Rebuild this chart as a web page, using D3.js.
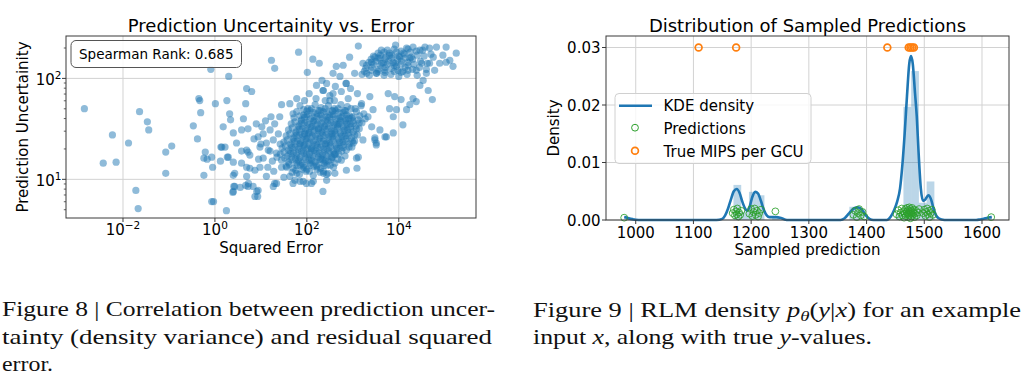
<!DOCTYPE html>
<html><head><meta charset="utf-8">
<script src="https://cdn.jsdelivr.net/npm/d3@7"></script>
<style>
body{margin:0;background:#fff;}
svg{display:block;}
text{font-family:"DejaVu Sans",sans-serif;fill:#000;}
.cap{font-family:"Liberation Serif",serif;font-size:21px;fill:#111;}
</style></head><body>
<svg id="c" width="1024" height="381"></svg>
<script>
// ---------- Figure 8 data: [log10(squared error), log10(uncertainty)] ----------
const sparsePoints = [[-2.84,1.70],[-2.23,1.44],[-2.43,1.16],[-2.15,1.17],[-1.88,1.36],[-1.64,1.67],[-1.47,1.57],[-1.44,1.49],[-1.72,0.89],[-1.67,0.71],[-1.07,1.27],[-0.94,1.33],[-1.07,1.06],[-0.47,1.53],[-0.38,1.40],[-0.35,1.80],[-0.33,1.78],[-0.31,1.66],[-0.24,1.04],[-0.21,1.27],[-0.24,1.21],[-0.17,1.20],[-0.09,2.09],[-0.05,1.12],[-0.07,0.78],[-0.03,0.78],[0.01,1.75],[-0.07,1.22],[0.26,1.78],[0.30,2.02],[0.25,0.69],[0.13,1.32],[0.12,1.18],[0.15,1.32],[0.29,1.22],[0.40,1.04],[0.43,0.93],[0.40,0.88],[0.69,1.03],[0.72,0.93],[0.87,0.83],[0.72,1.27],
[0.18,1.52],[0.34,1.59],[0.32,1.65],[0.40,1.46],[0.47,1.36],[0.58,1.49],[0.62,1.60],[0.69,1.90],[0.80,1.87],[0.67,1.75],[0.72,1.50],[0.69,1.29],[0.76,1.24],[0.58,1.16],[0.58,1.28],[0.40,1.17],[0.27,1.22],[0.22,1.32],[1.02,1.52],[0.94,1.42],[0.98,1.32],[1.05,1.21],[0.98,1.12],[0.87,1.09],[1.12,1.03],[1.30,0.96],[1.20,1.49],[1.27,1.39],[1.16,1.29],[1.34,1.26],[1.41,1.62],[1.45,1.74],[1.63,1.75],[1.70,1.65],[1.56,1.12],[1.63,1.03],[1.78,1.06],[1.99,0.96],[2.14,0.98],[2.36,1.06],[2.43,0.99],[2.61,1.06],[2.86,1.09],
[0.43,1.06],[0.39,0.87],[0.41,0.93],[0.55,0.92],[0.67,0.94],[0.73,0.96],[0.83,0.93],[0.91,0.88],[0.93,0.83],[0.69,1.12],[0.76,1.11],[1.27,0.93],[1.34,0.96],[1.70,0.96],[1.85,0.98],[2.35,0.88],[0.94,0.89],[1.74,0.99],[1.92,0.98],[2.10,0.96],[2.46,1.06],[3.09,1.11],[3.08,1.21],[3.51,1.36],[3.73,1.42],[3.88,1.46],[3.48,1.41]];
const blobPoints = [[1.85,1.73],[2.02,1.70],[2.18,1.74],[2.31,1.71],[2.47,1.73],[2.60,1.70],[2.74,1.74],[2.88,1.72],[3.05,1.70],[3.18,1.73],
[1.78,1.67],[1.93,1.64],[2.07,1.68],[2.22,1.65],[2.36,1.67],[2.50,1.64],[2.63,1.68],[2.79,1.66],[2.93,1.63],[3.08,1.67],[3.24,1.65],
[1.72,1.61],[1.88,1.59],[2.00,1.62],[2.14,1.58],[2.29,1.61],[2.42,1.59],[2.57,1.62],[2.70,1.60],[2.84,1.58],[2.98,1.61],[3.12,1.59],[3.27,1.60],
[1.66,1.55],[1.81,1.53],[1.95,1.56],[2.09,1.52],[2.23,1.55],[2.38,1.53],[2.52,1.56],[2.66,1.54],[2.80,1.52],[2.94,1.55],[3.07,1.53],[3.20,1.56],
[1.60,1.49],[1.76,1.47],[1.90,1.50],[2.04,1.46],[2.17,1.49],[2.32,1.47],[2.46,1.50],[2.60,1.48],[2.73,1.46],[2.88,1.49],[3.01,1.47],[3.14,1.50],
[1.55,1.43],[1.70,1.41],[1.84,1.44],[1.98,1.40],[2.12,1.43],[2.27,1.41],[2.41,1.44],[2.55,1.42],[2.69,1.40],[2.83,1.43],[2.97,1.41],[3.10,1.44],
[1.50,1.37],[1.64,1.35],[1.79,1.38],[1.93,1.34],[2.07,1.37],[2.21,1.35],[2.36,1.38],[2.50,1.36],[2.64,1.34],[2.78,1.37],[2.92,1.35],[3.04,1.38],
[1.46,1.31],[1.60,1.29],[1.74,1.32],[1.88,1.28],[2.02,1.31],[2.16,1.29],[2.30,1.32],[2.44,1.30],[2.58,1.28],[2.72,1.31],[2.86,1.29],[2.98,1.32],
[1.42,1.25],[1.57,1.23],[1.71,1.26],[1.85,1.22],[1.99,1.25],[2.13,1.23],[2.27,1.26],[2.41,1.24],[2.55,1.22],[2.69,1.25],[2.83,1.23],
[1.45,1.19],[1.60,1.17],[1.75,1.20],[1.90,1.16],[2.04,1.19],[2.18,1.17],[2.33,1.20],[2.47,1.18],[2.61,1.16],[2.75,1.19],
[1.55,1.13],[1.70,1.11],[1.86,1.14],[2.00,1.10],[2.15,1.13],[2.30,1.11],[2.44,1.14],[2.58,1.12],
[1.68,1.07],[1.84,1.05],[1.98,1.08],[2.14,1.04],[2.29,1.07],[2.43,1.05],
[1.95,1.45],[2.25,1.50],[2.55,1.45],[2.10,1.30],[2.40,1.35],[2.70,1.55],[2.30,1.20],[2.60,1.25],[1.85,1.35],[2.85,1.60],
[1.05,1.45],[1.12,1.36],[1.20,1.28],[1.25,1.18],[1.30,1.55],[1.38,1.45],[1.42,1.35],[1.35,1.22],[1.28,1.08],[1.45,1.12],[1.50,1.02],[1.15,1.12],[0.95,1.20],[1.00,1.35],[0.85,1.40],[0.90,1.55],[1.10,1.58],[1.22,1.62]];
const blobCorePoints = [[1.93,1.69],[2.10,1.70],[2.25,1.68],[2.40,1.70],[2.55,1.68],[2.68,1.70],[2.82,1.68],[2.96,1.70],
[1.85,1.63],[2.00,1.64],[2.15,1.62],[2.30,1.64],[2.44,1.62],[2.57,1.64],[2.72,1.62],[2.86,1.64],[3.00,1.62],[3.15,1.63],
[1.74,1.57],[1.88,1.58],[2.02,1.56],[2.16,1.58],[2.31,1.56],[2.45,1.58],[2.59,1.56],[2.73,1.58],[2.87,1.56],[3.00,1.58],[3.14,1.56],
[1.68,1.51],[1.83,1.52],[1.97,1.50],[2.11,1.52],[2.25,1.50],[2.39,1.52],[2.53,1.50],[2.67,1.52],[2.81,1.50],[2.95,1.52],[3.08,1.50],
[1.63,1.45],[1.77,1.46],[1.91,1.44],[2.05,1.46],[2.19,1.44],[2.34,1.46],[2.48,1.44],[2.62,1.46],[2.76,1.44],[2.90,1.46],[3.04,1.44],
[1.57,1.39],[1.72,1.40],[1.86,1.38],[2.00,1.40],[2.14,1.38],[2.29,1.40],[2.43,1.38],[2.57,1.40],[2.71,1.38],[2.85,1.40],[2.99,1.38],
[1.53,1.33],[1.67,1.34],[1.81,1.32],[1.95,1.34],[2.09,1.32],[2.23,1.34],[2.37,1.32],[2.51,1.34],[2.65,1.32],[2.79,1.34],[2.92,1.32],
[1.50,1.27],[1.64,1.28],[1.78,1.26],[1.92,1.28],[2.06,1.26],[2.20,1.28],[2.34,1.26],[2.48,1.28],[2.62,1.26],[2.76,1.28],
[1.52,1.21],[1.67,1.22],[1.82,1.20],[1.96,1.22],[2.10,1.20],[2.25,1.22],[2.40,1.20],[2.54,1.22],[2.68,1.20],
[1.62,1.15],[1.78,1.16],[1.93,1.14],[2.07,1.16],[2.22,1.14],[2.37,1.16],[2.51,1.14],
[1.76,1.09],[1.91,1.10],[2.06,1.08],[2.22,1.10],[2.36,1.08]];
const blobDensePoints = [[2.00,1.675],[2.14,1.66],[2.28,1.68],[2.42,1.665],[2.56,1.675],[2.70,1.66],[2.84,1.68],
[1.95,1.615],[2.08,1.60],[2.22,1.62],[2.35,1.605],[2.49,1.615],[2.63,1.60],[2.77,1.62],[2.91,1.605],
[1.88,1.555],[2.02,1.54],[2.16,1.56],[2.30,1.545],[2.45,1.555],[2.59,1.54],[2.73,1.56],[2.87,1.545],[3.01,1.555],
[1.83,1.495],[1.97,1.48],[2.11,1.50],[2.25,1.485],[2.39,1.495],[2.53,1.48],[2.67,1.50],[2.81,1.485],[2.95,1.495],
[1.77,1.435],[1.91,1.42],[2.05,1.44],[2.19,1.425],[2.34,1.435],[2.48,1.42],[2.62,1.44],[2.76,1.425],[2.90,1.435],
[1.72,1.375],[1.86,1.36],[2.00,1.38],[2.14,1.365],[2.28,1.375],[2.43,1.36],[2.57,1.38],[2.71,1.365],[2.85,1.375],
[1.67,1.315],[1.81,1.30],[1.95,1.32],[2.09,1.305],[2.23,1.315],[2.37,1.30],[2.51,1.32],[2.65,1.305],[2.79,1.315],
[1.64,1.255],[1.78,1.24],[1.92,1.26],[2.06,1.245],[2.20,1.255],[2.34,1.24],[2.48,1.26],[2.62,1.245],
[1.67,1.195],[1.82,1.18],[1.97,1.20],[2.11,1.185],[2.26,1.195],[2.40,1.18],[2.54,1.20],
[1.78,1.135],[1.93,1.12],[2.08,1.14],[2.22,1.125],[2.37,1.135]];
const upperPoints = [[1.78,1.80],[1.95,1.78],[2.05,1.85],[2.20,1.80],[2.35,1.88],[2.50,1.83],[2.62,1.92],[2.75,1.87],[2.85,1.95],[2.95,1.90],[3.10,1.85],[2.90,1.80],[2.60,1.78],[2.40,1.78],
[1.23,2.18],[1.30,2.10],[1.82,2.26],[2.01,2.06],[2.13,2.19],[2.27,2.15],[2.33,1.98],[2.43,1.95],[2.57,2.05],[2.64,2.12],[2.79,2.13],[2.93,2.21],[3.12,2.32],[2.72,2.02],[2.86,1.95],[3.04,2.05],[2.21,1.93],[2.36,1.88],[2.57,1.85],[2.50,1.78],
[3.01,1.36],[3.22,1.39],[3.41,1.52],[3.33,1.62],[3.44,1.69],[3.19,1.75],[3.37,1.82],[3.59,1.49],[3.70,1.42],[3.48,1.39],[3.51,1.34],[3.12,1.22],
[3.77,1.85],[3.91,1.82],[3.80,1.70],[3.95,1.69],[3.88,1.62],[4.09,1.54],[4.24,1.74],[4.38,1.77],[4.17,1.69],[4.73,1.79],[4.46,1.93],[4.53,1.98],[4.60,2.05],[4.67,2.15],[4.64,1.88],[4.31,1.80],[4.05,1.79],
[3.22,2.15],[3.30,2.05],[3.41,2.16],[3.48,2.21],[3.59,2.20],[3.66,2.15],[3.70,2.08],[3.80,2.23],[3.88,2.16],[3.95,2.12],[3.93,2.33],[4.02,2.21],[4.17,2.30],[4.24,2.20],[4.31,2.31],[4.20,2.08],[4.09,2.07],[4.38,2.08],[4.46,2.28],[4.57,2.31],[4.67,2.30],[4.82,2.31],[5.03,2.31],[4.96,2.23],[5.11,2.18],[5.25,2.25],[5.18,2.12],[4.78,2.08],[4.89,2.15],[5.03,2.16],[4.75,2.21],[4.50,2.15],[3.51,2.05],[3.62,2.28],
[3.75,2.28],[3.90,2.29],[4.05,2.27],[4.20,2.29],[4.38,2.27],[4.52,2.28],
[3.45,2.22],[3.60,2.23],[3.72,2.21],[3.85,2.23],[4.00,2.22],[4.12,2.24],[4.27,2.21],[4.40,2.23],[4.55,2.22],[4.70,2.24],
[3.35,2.16],[3.50,2.17],[3.63,2.15],[3.78,2.17],[3.92,2.15],[4.06,2.17],[4.20,2.16],[4.33,2.14],[4.47,2.17],[4.62,2.15],
[3.28,2.10],[3.42,2.11],[3.56,2.09],[3.70,2.11],[3.84,2.10],[3.98,2.08],[4.14,2.11],[4.30,2.09],[4.45,2.11],[4.60,2.09],
[3.20,2.04],[3.36,2.03],[3.52,2.05],[3.68,2.03],[3.83,2.04],[4.00,2.02],[4.18,2.04],[4.40,2.03],
[3.55,2.25],[3.68,2.26],[3.80,2.25],[3.95,2.26],[4.10,2.25],[4.25,2.26],
[3.40,2.19],[3.55,2.20],[3.70,2.19],[3.85,2.20],[3.98,2.19],[4.14,2.20],[4.30,2.19],
[3.30,2.13],[3.45,2.14],[3.60,2.13],[3.75,2.14],[3.90,2.13],[4.05,2.14],[4.20,2.13],
[3.25,2.07],[3.40,2.08],[3.55,2.07],[3.70,2.06],[3.90,2.07],[4.05,2.06]];
const spearmanText = "Spearman Rank: 0.685";
const leftXTicks = [-2, 0, 2, 4];      // exponents
const leftYTicks = [1, 2];             // exponents

// ---------- Figure 9 data ----------
const kdeX = [980,985,990,1000,1010,1140,1150,1155,1160,1165,1170,1175,1180,1185,1190,1193,1197,1202,1207,1212,1217,1222,1227,1232,1238,1244,1250,1258,1265,1355,1362,1370,1378,1385,1392,1398,1405,1412,1435,1442,1448,1453,1458,1462,1466,1470,1474,1477,1480,1484,1487,1490,1494,1498,1502,1507,1512,1516,1520,1525,1530,1540,1590,1597,1603,1610,1617];
const kdeY = [0.0005,0.0004,0.0002,0.00005,0,0,0.0002,0.0008,0.0020,0.0036,0.0050,0.0054,0.0047,0.0031,0.0019,0.0016,0.0022,0.0040,0.0049,0.0046,0.0033,0.0018,0.0008,0.0005,0.0005,0.0005,0.0004,0.0001,0,0,0.0003,0.0012,0.0020,0.0022,0.0018,0.0009,0.0002,0,0,0.0006,0.0018,0.0032,0.0055,0.0095,0.0150,0.0215,0.0272,0.0285,0.0272,0.0220,0.0180,0.0120,0.0055,0.0033,0.0036,0.0043,0.0035,0.0020,0.0009,0.0003,0.0001,0,0,0.0001,0.0002,0.0004,0.0005];
const binWidth = 13.4;
const histStart = [982.1,1169.4,1182.8,1196.2,1209.6,1236.4,1370.2,1383.6,1450.5,1463.9,1477.3,1490.7,1504.1,1603.6];
const histDensity = [0.0005,0.0061,0.0014,0.0049,0.0043,0.0005,0.0023,0.0019,0.0012,0.0197,0.0259,0.0030,0.0067,0.0005];
const predX = [980,1168,1170,1172,1174,1175,1176,1178,1179,1181,1183,1197,1200,1202,1204,1206,1208,1210,1212,1214,1217,1242,1377,1380,1383,1385,1387,1390,1393,1396,
1452,1455,1457,1459,1461,1462,1464,1465,1466,1467,1468,1469,1470,1471,1472,1472,1473,1474,1474,1475,1476,1476,1477,1478,1478,1479,1480,1481,1482,1483,1484,1486,1487,1489,1491,
1498,1500,1502,1503,1505,1506,1508,1509,1511,1513,1515,1616];
const predY = [0.0004,0.0012,0.0018,0.0008,0.0015,0.0010,0.0020,0.0006,0.0013,0.0009,0.0016,0.0011,0.0019,0.0007,0.0014,0.0020,0.0009,0.0016,0.0006,0.0012,0.0018,0.0015,0.0009,0.0016,0.0005,0.0012,0.0019,0.0008,0.0014,0.0006,
0.0010,0.0017,0.0006,0.0013,0.0020,0.0008,0.0015,0.0004,0.0011,0.0019,0.0007,0.0014,0.0021,0.0010,0.0005,0.0017,0.0012,0.0022,0.0008,0.0015,0.0003,0.0019,0.0011,0.0006,0.0016,0.0021,0.0009,0.0013,0.0018,0.0005,0.0011,0.0016,0.0008,0.0013,0.0019,
0.0012,0.0018,0.0007,0.0014,0.0020,0.0010,0.0016,0.0005,0.0012,0.0018,0.0009,0.0005];
const trueX = [1109,1174,1436,1473,1476,1479,1482];
const trueY = 0.03;
const rightXTicks = [1000,1100,1200,1300,1400,1500,1600];
const rightYTicks = [0, 0.01, 0.02, 0.03];
const legendLabels = ["KDE density","Predictions","True MIPS per GCU"];

const BLUE="#1f77b4", GREEN="#2ca02c", ORANGE="#ff7f0e", GRID="#d2d2d2", AX="#3a3a3a";
const svg = d3.select("#c");

// ================= LEFT CHART =================
const L = {x0:66, x1:476, y0:36, y1:218};
const xL = d3.scaleLog().domain([10**-3.24, 10**5.68]).range([L.x0, L.x1]);
const yL = d3.scaleLog().domain([10**0.617, 10**2.42]).range([L.y1, L.y0]);
const gL = svg.append("g");
gL.append("clipPath").attr("id","clipL").append("rect").attr("x",L.x0).attr("y",L.y0).attr("width",L.x1-L.x0).attr("height",L.y1-L.y0);
gL.selectAll(".gx").data(leftXTicks).join("line").attr("x1",d=>xL(10**d)).attr("x2",d=>xL(10**d)).attr("y1",L.y0).attr("y2",L.y1).attr("stroke",GRID).attr("stroke-width",1);
gL.selectAll(".gy").data(leftYTicks).join("line").attr("y1",d=>yL(10**d)).attr("y2",d=>yL(10**d)).attr("x1",L.x0).attr("x2",L.x1).attr("stroke",GRID).attr("stroke-width",1);
const allPts = sparsePoints.concat(blobPoints, blobCorePoints, blobDensePoints, upperPoints);
gL.append("g").attr("clip-path","url(#clipL)").selectAll("circle").data(allPts).join("circle")
  .attr("cx",d=>xL(10**d[0])).attr("cy",d=>yL(10**d[1])).attr("r",3.6)
  .attr("fill",BLUE).attr("fill-opacity",0.5);
gL.append("rect").attr("x",L.x0).attr("y",L.y0).attr("width",L.x1-L.x0).attr("height",L.y1-L.y0).attr("fill","none").attr("stroke",AX).attr("stroke-width",1);
leftXTicks.forEach(e=>{
  const x = xL(10**e);
  gL.append("line").attr("x1",x).attr("x2",x).attr("y1",L.y1).attr("y2",L.y1+4).attr("stroke",AX);
  const t = gL.append("text").attr("x",x).attr("y",L.y1+17).attr("text-anchor","middle").attr("font-size",15);
  t.append("tspan").text("10");
  t.append("tspan").attr("dy",-6).attr("font-size",10.5).text(String(e).replace("-","\u2212"));
});
leftYTicks.forEach(e=>{
  const y = yL(10**e);
  gL.append("line").attr("x1",L.x0-4).attr("x2",L.x0).attr("y1",y).attr("y2",y).attr("stroke",AX);
  const t = gL.append("text").attr("x",L.x0-4.5).attr("y",y+7).attr("text-anchor","end").attr("font-size",15);
  t.append("tspan").text("10");
  t.append("tspan").attr("dy",-6).attr("font-size",10.5).text(String(e));
});
[0,1,2].forEach(dec=>{ for(let m=2;m<=9;m++){ const v=m*10**dec; if(v>yL.domain()[0] && v<yL.domain()[1]){
  gL.append("line").attr("x1",L.x0-2.2).attr("x2",L.x0).attr("y1",yL(v)).attr("y2",yL(v)).attr("stroke",AX).attr("stroke-width",0.8);
}}});
gL.append("text").attr("x",(L.x0+L.x1)/2).attr("y",32).attr("text-anchor","middle").attr("font-size",18).text("Prediction Uncertainity vs. Error");
gL.append("text").attr("x",(L.x0+L.x1)/2).attr("y",253).attr("text-anchor","middle").attr("font-size",15).text("Squared Error");
gL.append("text").attr("transform",`translate(27.5,${(L.y0+L.y1)/2}) rotate(-90)`).attr("text-anchor","middle").attr("font-size",15).text("Prediction Uncertainity");
gL.append("rect").attr("x",71).attr("y",40.5).attr("width",170.5).attr("height",27).attr("rx",5).attr("fill","#fff").attr("fill-opacity",0.85).attr("stroke","#555").attr("stroke-width",1);
gL.append("text").attr("x",79).attr("y",58.5).attr("font-size",13.5).text(spearmanText);

// ================= RIGHT CHART =================
const R = {x0:606, x1:1009, y0:36, y1:220};
const xR = d3.scaleLinear().domain([948.5, 1646.8]).range([R.x0,R.x1]);
const yR = d3.scaleLinear().domain([0, 0.032]).range([R.y1,R.y0]);
const gR = svg.append("g");
gR.selectAll(".gx").data(rightXTicks).join("line").attr("x1",d=>xR(d)).attr("x2",d=>xR(d)).attr("y1",R.y0).attr("y2",R.y1).attr("stroke",GRID);
gR.selectAll(".gy").data(rightYTicks).join("line").attr("y1",d=>yR(d)).attr("y2",d=>yR(d)).attr("x1",R.x0).attr("x2",R.x1).attr("stroke",GRID);
gR.selectAll(".bar").data(histStart.map((s,i)=>({s,d:histDensity[i]}))).join("rect")
  .attr("x",d=>xR(d.s)).attr("width",d=>xR(d.s+binWidth)-xR(d.s)).attr("y",d=>yR(d.d)).attr("height",d=>yR(0)-yR(d.d))
  .attr("fill",BLUE).attr("fill-opacity",0.3);
const kde = kdeX.map((x,i)=>[x,kdeY[i]]);
gR.append("path").datum(kde).attr("d",d3.line().x(d=>xR(d[0])).y(d=>yR(d[1])).curve(d3.curveMonotoneX))
  .attr("fill","none").attr("stroke",BLUE).attr("stroke-width",2.6);
gR.selectAll(".pred").data(predX.map((x,i)=>[x,predY[i]])).join("circle")
  .attr("cx",d=>xR(d[0])).attr("cy",d=>yR(d[1])).attr("r",3.4)
  .attr("fill","none").attr("stroke",GREEN).attr("stroke-width",1).attr("stroke-opacity",0.85);
gR.selectAll(".tru").data(trueX).join("circle")
  .attr("cx",d=>xR(d)).attr("cy",yR(trueY)).attr("r",3.4)
  .attr("fill","none").attr("stroke",ORANGE).attr("stroke-width",1.7);
gR.append("rect").attr("x",R.x0).attr("y",R.y0).attr("width",R.x1-R.x0).attr("height",R.y1-R.y0).attr("fill","none").attr("stroke",AX);
rightXTicks.forEach(v=>{
  gR.append("line").attr("x1",xR(v)).attr("x2",xR(v)).attr("y1",R.y1).attr("y2",R.y1+4).attr("stroke",AX);
  gR.append("text").attr("x",xR(v)).attr("y",R.y1+18).attr("text-anchor","middle").attr("font-size",15).text(v);
});
rightYTicks.forEach(v=>{
  gR.append("line").attr("x1",R.x0-4).attr("x2",R.x0).attr("y1",yR(v)).attr("y2",yR(v)).attr("stroke",AX);
  gR.append("text").attr("x",R.x0-5.5).attr("y",yR(v)+5.5).attr("text-anchor","end").attr("font-size",15).text(d3.format(".2f")(v));
});
gR.append("text").attr("x",(R.x0+R.x1)/2).attr("y",32).attr("text-anchor","middle").attr("font-size",18).text("Distribution of Sampled Predictions");
gR.append("text").attr("x",(R.x0+R.x1)/2).attr("y",255).attr("text-anchor","middle").attr("font-size",15).text("Sampled prediction");
gR.append("text").attr("transform",`translate(559,${(R.y0+R.y1)/2}) rotate(-90)`).attr("text-anchor","middle").attr("font-size",15).text("Density");
const lg = gR.append("g");
lg.append("rect").attr("x",615).attr("y",93.5).attr("width",196).attr("height",70).attr("rx",4).attr("fill","#fff").attr("fill-opacity",0.8).attr("stroke","#d0d0d0");
lg.append("line").attr("x1",619).attr("x2",652).attr("y1",105.7).attr("y2",105.7).attr("stroke",BLUE).attr("stroke-width",2.6);
lg.append("circle").attr("cx",635).attr("cy",127.7).attr("r",3.4).attr("fill","none").attr("stroke",GREEN).attr("stroke-width",1);
lg.append("circle").attr("cx",635).attr("cy",150.7).attr("r",3.4).attr("fill","none").attr("stroke",ORANGE).attr("stroke-width",1.7);
legendLabels.forEach((s,i)=>lg.append("text").attr("x",663.5).attr("y",111.2+i*23).attr("font-size",15).text(s));

// ================= CAPTIONS =================
function fit(t, target){ t.attr("textLength",target).attr("lengthAdjust","spacingAndGlyphs"); }
const c1 = svg.append("text").attr("class","cap").attr("x",2).attr("y",316).text("Figure 8 | Correlation between prediction uncer-"); fit(c1,493);
const c2 = svg.append("text").attr("class","cap").attr("x",2).attr("y",344).text("tainty (density variance) and residual squared"); fit(c2,490);
const c3 = svg.append("text").attr("class","cap").attr("x",2).attr("y",371).text("error."); fit(c3,51);
const c4 = svg.append("text").attr("class","cap").attr("x",533).attr("y",317);
c4.append("tspan").text("Figure 9 | RLM density ");
c4.append("tspan").attr("font-style","italic").text("p");
c4.append("tspan").attr("font-style","italic").attr("font-size",15).attr("dy",4).text("θ");
c4.append("tspan").attr("dy",-4).text("(");
c4.append("tspan").attr("font-style","italic").text("y");
c4.append("tspan").text("|");
c4.append("tspan").attr("font-style","italic").text("x");
c4.append("tspan").text(") for an example");
fit(c4,488);
const c5 = svg.append("text").attr("class","cap").attr("x",533).attr("y",344);
c5.append("tspan").text("input ");
c5.append("tspan").attr("font-style","italic").text("x");
c5.append("tspan").text(", along with true ");
c5.append("tspan").attr("font-style","italic").text("y");
c5.append("tspan").text("-values.");
fit(c5,339);
</script>
</body></html>
